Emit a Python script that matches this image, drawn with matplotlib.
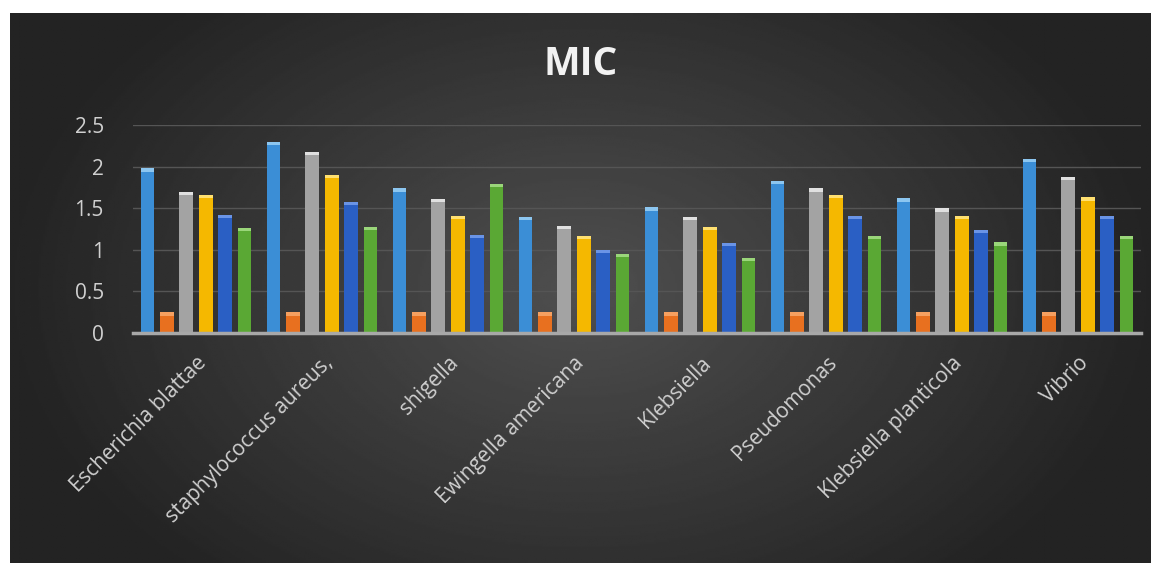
import numpy as np
import matplotlib.pyplot as plt

categories = ["Escherichia blattae", "staphylococcus aureus,", "shigella",
              "Ewingella americana", "Klebsiella", "Pseudomonas",
              "Klebsiella planticola", "Vibrio"]

s1 = [1.98, 2.30, 1.74, 1.40, 1.51, 1.83, 1.62, 2.09]
s2 = [0.25, 0.25, 0.25, 0.25, 0.25, 0.25, 0.25, 0.25]
s3 = [1.70, 2.18, 1.61, 1.29, 1.40, 1.74, 1.50, 1.88]
s4 = [1.66, 1.90, 1.41, 1.17, 1.28, 1.66, 1.41, 1.63]
s5 = [1.42, 1.58, 1.18, 1.00, 1.08, 1.41, 1.24, 1.41]
s6 = [1.26, 1.28, 1.79, 0.95, 0.90, 1.17, 1.09, 1.17]

series = [s1, s2, s3, s4, s5, s6]
colors = ["#3b8ed6", "#e8701f", "#a3a3a3", "#f5b800", "#2a5fc4", "#5aa834"]
tops = ["#8cc6f0", "#f6a060", "#e0e0e0", "#ffe070", "#6a94e6", "#9ad67a"]

fig = plt.figure(figsize=(11.61, 5.63), dpi=100)
fig.patch.set_facecolor("white")

# dark radial-gradient background
bg = fig.add_axes([10 / 1161, 0, 1141 / 1161, 550 / 563])
yy, xx = np.mgrid[-1:1:300j, -1:1:600j]
r = np.sqrt((xx / 1.0) ** 2 + (yy / 1.4) ** 2)
img = np.clip(0.31 - 0.17 * r, 0.14, 0.31)
bg.imshow(img, cmap="gray", vmin=0, vmax=1, aspect="auto", extent=[0, 1, 0, 1])
bg.set_axis_off()

ax = fig.add_axes([133 / 1161, 230 / 563, 1008 / 1161, 208 / 563])
ax.patch.set_alpha(0)
x = np.arange(len(categories))
step, width = 0.154, 0.11
cap = 0.04
for k, (vals, c, tc) in enumerate(zip(series, colors, tops)):
    pos = x + (k - 2.5) * step
    vals = np.array(vals)
    ax.bar(pos, vals, width, color=c, zorder=3)
    ax.bar(pos, cap, width, bottom=vals - cap, color=tc, zorder=4)

ax.set_xlim(-0.5, 7.5)
ax.set_ylim(0, 2.5)
ax.set_yticks([0, 0.5, 1, 1.5, 2, 2.5])
ax.set_yticklabels(["0", "0.5", "1", "1.5", "2", "2.5"])
ax.grid(axis="y", color="#555555", linewidth=1, zorder=0)
for sp in ["top", "right", "left"]:
    ax.spines[sp].set_visible(False)
ax.spines["bottom"].set_color("#a8a8a8")
ax.spines["bottom"].set_linewidth(2.5)
ax.spines["bottom"].set_zorder(5)
ax.tick_params(axis="y", length=0, labelsize=15, labelcolor="#d0d0d0", pad=21)
ax.tick_params(axis="x", length=0, pad=14)
ax.set_xticks(x)
ax.set_xticklabels(categories, rotation=45, ha="right", rotation_mode="anchor",
                   fontsize=15, color="#d0d0d0", family="Open Sans")
for t in ax.get_yticklabels():
    t.set_family("Open Sans")

fig.text(0.5, 0.885, "MIC", ha="center", va="center", fontsize=28,
         fontweight="bold", color="#f2f2f2", family="Open Sans")

fig.savefig("out.png", dpi=100)
